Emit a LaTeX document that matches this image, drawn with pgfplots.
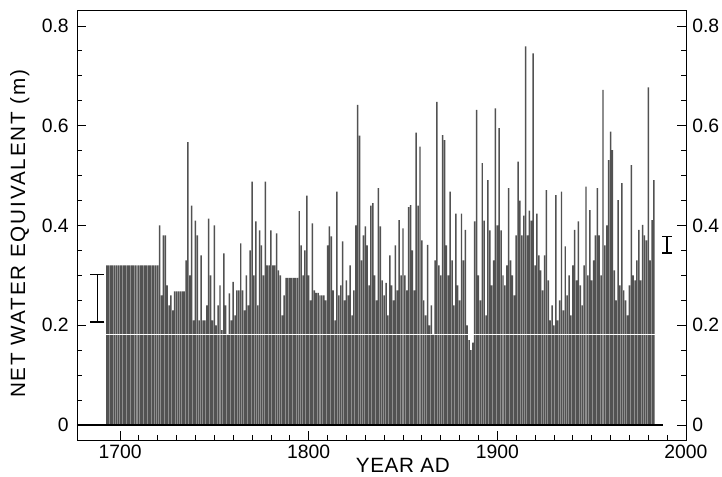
\documentclass[border=0pt]{standalone}
\usepackage{fontspec}
\setmainfont{Liberation Sans}
\usepackage{pgfplots}
\pgfplotsset{compat=1.18}
\usetikzlibrary{calc}

\begin{document}
\begin{tikzpicture}
\begin{axis}[
    name=ax,
    scale only axis,
    width=456.75pt, height=322.5pt,
    xmin=1677.2, xmax=2000,
    ymin=-0.030, ymax=0.832,
    xtick={1700,1800,1900,2000},
    minor x tick num=9,
    ytick={0,0.2,0.4,0.6,0.8},
    minor y tick num=3,
    xtick pos=bottom,
    ytick pos=both,
    yticklabel pos=left,
    tick align=inside,
    major tick length=7pt,
    minor tick length=3.5pt,
    every tick/.style={black, line width=0.6pt},
    axis line style={line width=0.7pt},
    /pgf/number format/assume math mode=true,
    /pgf/number format/set thousands separator={},
    tick label style={font=\fontsize{14.5}{16}\selectfont},
    xticklabel style={inner sep=0pt, yshift=-3.75pt},
    yticklabel style={inner sep=0pt, xshift=-6pt},
    xlabel={YEAR AD},
    ylabel={NET WATER EQUIVALENT (m)},
    every axis x label/.style={at={(rel axis cs:0.535,0)}, anchor=north, inner sep=0pt, yshift=-13.5pt, font=\fontsize{15.5}{17}\selectfont\addfontfeatures{LetterSpace=3}},
    every axis y label/.style={at={(rel axis cs:0,0.48)}, rotate=90, anchor=center, inner sep=0pt, yshift=43pt, font=\fontsize{15.5}{17}\selectfont\addfontfeatures{LetterSpace=9}},
]
% annual net accumulation
\addplot[ybar, bar width=0.78, fill=black!68, draw=none] coordinates {
(1693,0.32) (1694,0.32) (1695,0.32) (1696,0.32) (1697,0.32) (1698,0.32) (1699,0.32)
(1700,0.32) (1701,0.32) (1702,0.32) (1703,0.32) (1704,0.32) (1705,0.32) (1706,0.32) (1707,0.32) (1708,0.32) (1709,0.32)
(1710,0.32) (1711,0.32) (1712,0.32) (1713,0.32) (1714,0.32) (1715,0.32) (1716,0.32) (1717,0.32) (1718,0.32) (1719,0.32)
(1720,0.32) (1721,0.40) (1722,0.26) (1723,0.38) (1724,0.38) (1725,0.28) (1726,0.24) (1727,0.26) (1728,0.23) (1729,0.268)
(1730,0.268) (1731,0.268) (1732,0.268) (1733,0.268) (1734,0.268) (1735,0.33) (1736,0.567) (1737,0.30) (1738,0.44) (1739,0.21)
(1740,0.41) (1741,0.38) (1742,0.21) (1743,0.34) (1744,0.21) (1745,0.21) (1746,0.24) (1747,0.414) (1748,0.30) (1749,0.21)
(1750,0.40) (1751,0.20) (1752,0.24) (1753,0.28) (1754,0.19) (1755,0.344) (1756,0.24) (1757,0.18) (1758,0.264) (1759,0.21)
(1760,0.287) (1761,0.22) (1762,0.27) (1763,0.27) (1764,0.364) (1765,0.27) (1766,0.23) (1767,0.30) (1768,0.24) (1769,0.35)
(1770,0.488) (1771,0.30) (1772,0.408) (1773,0.24) (1774,0.39) (1775,0.36) (1776,0.30) (1777,0.488) (1778,0.32) (1779,0.32)
(1780,0.39) (1781,0.32) (1782,0.32) (1783,0.384) (1784,0.31) (1785,0.30) (1786,0.22) (1787,0.26) (1788,0.295) (1789,0.295)
(1790,0.295) (1791,0.295) (1792,0.295) (1793,0.295) (1794,0.295) (1795,0.429) (1796,0.36) (1797,0.30) (1798,0.35) (1799,0.46)
(1800,0.30) (1801,0.25) (1802,0.404) (1803,0.27) (1804,0.265) (1805,0.265) (1806,0.26) (1807,0.26) (1808,0.26) (1809,0.25)
(1810,0.36) (1811,0.398) (1812,0.378) (1813,0.27) (1814,0.21) (1815,0.468) (1816,0.26) (1817,0.28) (1818,0.368) (1819,0.25)
(1820,0.29) (1821,0.26) (1822,0.32) (1823,0.22) (1824,0.27) (1825,0.40) (1826,0.642) (1827,0.58) (1828,0.33) (1829,0.38)
(1830,0.398) (1831,0.36) (1832,0.28) (1833,0.44) (1834,0.445) (1835,0.30) (1836,0.25) (1837,0.475) (1838,0.398) (1839,0.29)
(1840,0.26) (1841,0.285) (1842,0.22) (1843,0.34) (1844,0.28) (1845,0.25) (1846,0.36) (1847,0.27) (1848,0.411) (1849,0.30)
(1850,0.394) (1851,0.30) (1852,0.27) (1853,0.437) (1854,0.441) (1855,0.35) (1856,0.27) (1857,0.586) (1858,0.44) (1859,0.558)
(1860,0.37) (1861,0.25) (1862,0.22) (1863,0.361) (1864,0.20) (1865,0.24) (1866,0.18) (1867,0.33) (1868,0.648) (1869,0.32)
(1870,0.30) (1871,0.581) (1872,0.571) (1873,0.36) (1874,0.30) (1875,0.468) (1876,0.33) (1877,0.24) (1878,0.424) (1879,0.28)
(1880,0.25) (1881,0.424) (1882,0.33) (1883,0.391) (1884,0.20) (1885,0.17) (1886,0.15) (1887,0.165) (1888,0.408) (1889,0.632)
(1890,0.30) (1891,0.25) (1892,0.525) (1893,0.41) (1894,0.22) (1895,0.491) (1896,0.39) (1897,0.28) (1898,0.33) (1899,0.635)
(1900,0.40) (1901,0.595) (1902,0.39) (1903,0.30) (1904,0.28) (1905,0.32) (1906,0.475) (1907,0.33) (1908,0.30) (1909,0.26)
(1910,0.38) (1911,0.528) (1912,0.45) (1913,0.38) (1914,0.42) (1915,0.759) (1916,0.38) (1917,0.43) (1918,0.41) (1919,0.745)
(1920,0.32) (1921,0.424) (1922,0.34) (1923,0.31) (1924,0.27) (1925,0.34) (1926,0.471) (1927,0.29) (1928,0.21) (1929,0.24)
(1930,0.20) (1931,0.461) (1932,0.21) (1933,0.25) (1934,0.468) (1935,0.23) (1936,0.358) (1937,0.26) (1938,0.30) (1939,0.22)
(1940,0.32) (1941,0.391) (1942,0.29) (1943,0.408) (1944,0.28) (1945,0.24) (1946,0.32) (1947,0.478) (1948,0.30) (1949,0.431)
(1950,0.29) (1951,0.33) (1952,0.38) (1953,0.475) (1954,0.38) (1955,0.30) (1956,0.672) (1957,0.36) (1958,0.40) (1959,0.531)
(1960,0.588) (1961,0.551) (1962,0.31) (1963,0.25) (1964,0.451) (1965,0.28) (1966,0.485) (1967,0.27) (1968,0.25) (1969,0.22)
(1970,0.28) (1971,0.521) (1972,0.30) (1973,0.29) (1974,0.33) (1975,0.391) (1976,0.29) (1977,0.401) (1978,0.38) (1979,0.37)
(1980,0.677) (1981,0.33) (1982,0.411) (1983,0.491)
};
% faint white break across the bars
\addplot[white, line width=0.35pt] coordinates {(1692.5,0.183) (1983.5,0.183)};
% zero line
\addplot[black, line width=0.8pt] coordinates {(1677.2,0) (1988,0)};
% error bars
\addplot[black, mark=none, error bars/.cd, y dir=both, y explicit,
    error bar style={line width=1.1pt},
    error mark options={rotate=90, mark size=5.25pt, line width=1.1pt}]
    coordinates {(1688,0.2545) +- (0,0.0475)};
\addplot[black, mark=none, error bars/.cd, y dir=both, y explicit,
    error bar style={line width=1.1pt},
    error mark options={rotate=90, mark size=3.75pt, line width=1.1pt}]
    coordinates {(1990,0.3615) +- (0,0.0165)};
\end{axis}
% right-hand tick labels
\begin{axis}[
    scale only axis,
    width=456.75pt, height=322.5pt,
    xmin=1677.2, xmax=2000,
    ymin=-0.030, ymax=0.832,
    xtick=\empty,
    ytick={0,0.2,0.4,0.6,0.8},
    yticklabel pos=right,
    major tick length=0pt,
    axis line style={draw=none},
    /pgf/number format/assume math mode=true,
    tick label style={font=\fontsize{14.5}{16}\selectfont},
    yticklabel style={inner sep=0pt, xshift=4.5pt},
]
\end{axis}
\pgfresetboundingbox
\path ($(ax.south west)+(-57.75pt,-27.75pt)$) rectangle ($(ax.north east)+(27pt,7.5pt)$);
\end{tikzpicture}
\end{document}
